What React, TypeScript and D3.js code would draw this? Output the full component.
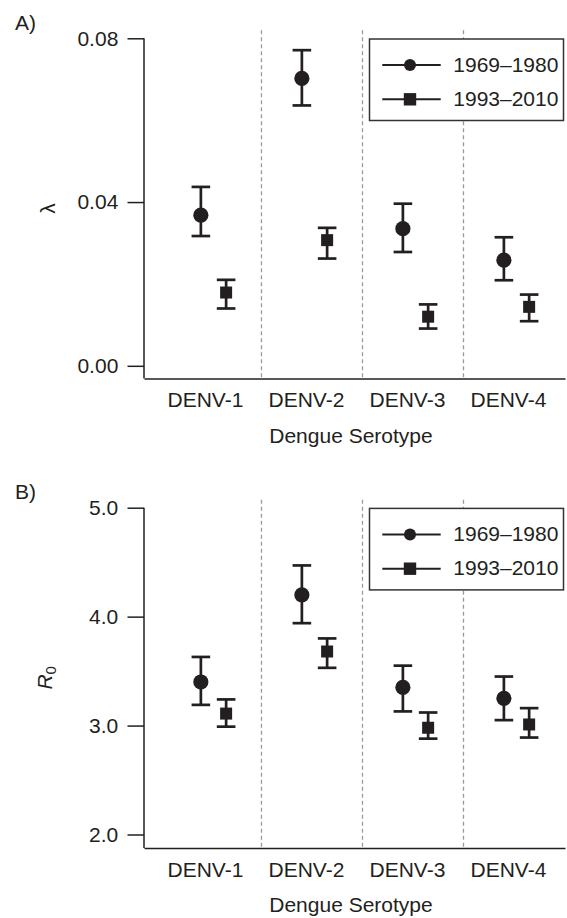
import { useEffect, useRef } from 'react';
import * as d3 from 'd3';

const serotypes = ['DENV-1', 'DENV-2', 'DENV-3', 'DENV-4'];
const periods = ['1969–1980', '1993–2010'];

// panel A: force of infection (lambda)
const lambdaEarly = [0.0368, 0.0702, 0.0335, 0.0258];
const lambdaEarlyLo = [0.0317, 0.0636, 0.0278, 0.0209];
const lambdaEarlyHi = [0.0437, 0.0771, 0.0396, 0.0314];
const lambdaLate = [0.0179, 0.0307, 0.0120, 0.0144];
const lambdaLateLo = [0.0140, 0.0262, 0.0091, 0.0109];
const lambdaLateHi = [0.0210, 0.0337, 0.0150, 0.0174];
const lambdaTicks = [0, 0.04, 0.08];

// panel B: R0
const r0Early = [3.40, 4.20, 3.35, 3.25];
const r0EarlyLo = [3.19, 3.94, 3.13, 3.05];
const r0EarlyHi = [3.63, 4.47, 3.55, 3.45];
const r0Late = [3.11, 3.68, 2.98, 3.01];
const r0LateLo = [2.99, 3.53, 2.88, 2.89];
const r0LateHi = [3.24, 3.80, 3.12, 3.16];
const r0Ticks = [2, 3, 4, 5];

const INK = '#231f20';
const FONT = '"Liberation Sans", Arial, Helvetica, sans-serif';
const FS = 21;

type Series = { mean: number[]; lo: number[]; hi: number[]; shape: 'circle' | 'square' };

interface PanelSpec {
  tag: string;
  top: number;
  yDomain: [number, number];
  ticks: number[];
  fmt: (d: number) => string;
  yLabel: 'lambda' | 'r0';
  series: Series[];
}

const panels: PanelSpec[] = [
  {
    tag: 'A)', top: 38.3, yDomain: [-0.0031, 0.08], ticks: lambdaTicks,
    fmt: d3.format('.2f'), yLabel: 'lambda',
    series: [
      { mean: lambdaEarly, lo: lambdaEarlyLo, hi: lambdaEarlyHi, shape: 'circle' },
      { mean: lambdaLate, lo: lambdaLateLo, hi: lambdaLateHi, shape: 'square' },
    ],
  },
  {
    tag: 'B)', top: 507.7, yDomain: [1.877, 5.0], ticks: r0Ticks,
    fmt: d3.format('.1f'), yLabel: 'r0',
    series: [
      { mean: r0Early, lo: r0EarlyLo, hi: r0EarlyHi, shape: 'circle' },
      { mean: r0Late, lo: r0LateLo, hi: r0LateHi, shape: 'square' },
    ],
  },
];

export default function App() {
  const svgRef = useRef<SVGSVGElement>(null);

  useEffect(() => {
    if (!svgRef.current) return;
    const W = 567, H = 918;
    const svg = d3.select(svgRef.current).attr('width', W).attr('height', H);
    svg.selectAll('*').remove();

    const PH = 340.2;      // plot height
    const axisX = 144;
    const x = d3.scaleLinear().domain([-0.663, 3.505]).range([axisX, 565]);
    const offsets = [-0.1, 0.15]; // circle / square offset within category

    for (const p of panels) {
      const g = svg.append('g');
      const bottom = p.top + PH;
      const y = d3.scaleLinear().domain(p.yDomain).range([bottom, p.top]);
      const yTop = y(p.ticks[p.ticks.length - 1]);

      // panel tag
      g.append('text').attr('x', 15).attr('y', p.top - 8.5)
        .style('font-family', FONT).style('font-size', `${FS}px`).style('fill', INK)
        .text(p.tag);

      // dashed category separators
      g.selectAll('line.sep').data(d3.range(serotypes.length - 1)).join('line')
        .attr('class', 'sep')
        .attr('x1', i => x(i + 0.5)).attr('x2', i => x(i + 0.5))
        .attr('y1', yTop - 8).attr('y2', bottom)
        .style('stroke', '#9a9a9a').style('stroke-width', 1.3)
        .style('stroke-dasharray', '4,3');

      // y axis
      const yAxis = g.append('g').attr('transform', `translate(${axisX},0)`)
        .call(d3.axisLeft(y).tickValues(p.ticks).tickFormat(d => p.fmt(+d))
          .tickSize(16.5).tickSizeOuter(0).tickPadding(9.2));
      yAxis.select('.domain').attr('d', `M0,${yTop}V${bottom}`);
      yAxis.selectAll('text').style('font-family', FONT).style('font-size', `${FS}px`).style('fill', INK);

      // x axis
      const xAxis = g.append('g').attr('transform', `translate(0,${bottom})`)
        .call(d3.axisBottom(x).tickValues(serotypes.map((_, i) => i - 0.06))
          .tickFormat((_, i) => serotypes[i]).tickSize(0).tickPadding(14));
      xAxis.selectAll('text').style('font-family', FONT).style('font-size', `${FS}px`).style('fill', INK);

      svg.selectAll('.domain').style('stroke', INK).style('stroke-width', 1.5);
      svg.selectAll('.tick line').style('stroke', INK).style('stroke-width', 1.5);

      // x title
      g.append('text').attr('x', 351).attr('y', bottom + 64)
        .attr('text-anchor', 'middle')
        .style('font-family', FONT).style('font-size', `${FS}px`).style('fill', INK)
        .text('Dengue Serotype');

      // y title (rotated)
      const midY = (yTop + bottom) / 2;
      if (p.yLabel === 'lambda') {
        g.append('text').attr('transform', `translate(55,${midY}) rotate(-90)`)
          .attr('text-anchor', 'middle')
          .style('font-family', FONT).style('font-size', `${FS}px`).style('fill', INK)
          .text('λ');
      } else {
        const t = g.append('text').attr('transform', `translate(52,${midY}) rotate(-90)`)
          .attr('text-anchor', 'middle')
          .style('font-family', FONT).style('font-size', `${FS}px`).style('fill', INK);
        t.append('tspan').style('font-style', 'italic').text('R');
        t.append('tspan').attr('dy', 4).style('font-size', '15px').text('0');
      }

      // error bars + markers
      p.series.forEach((s, k) => {
        const cx = (i: number) => x(i + offsets[k]);
        const sg = g.append('g');
        s.mean.forEach((m, i) => {
          const xi = cx(i);
          const lo = y(s.lo[i]), hi = y(s.hi[i]);
          sg.append('line').attr('x1', xi).attr('x2', xi).attr('y1', lo).attr('y2', hi)
            .style('stroke', INK).style('stroke-width', 2.7);
          for (const yy of [lo, hi]) {
            sg.append('line').attr('x1', xi - 9.3).attr('x2', xi + 9.3).attr('y1', yy).attr('y2', yy)
              .style('stroke', INK).style('stroke-width', 2.7);
          }
          if (s.shape === 'circle') {
            sg.append('circle').attr('cx', xi).attr('cy', y(m)).attr('r', 7.6).style('fill', INK);
          } else {
            sg.append('rect').attr('x', xi - 6).attr('y', y(m) - 6).attr('width', 12).attr('height', 12)
              .style('fill', INK);
          }
        });
      });

      // legend
      const lx = 369.5, ly = p.top + 0.7;
      const lg = g.append('g');
      lg.append('rect').attr('x', lx).attr('y', ly).attr('width', 194).attr('height', 81.5)
        .style('fill', '#fff').style('stroke', '#333').style('stroke-width', 1.5);
      periods.forEach((label, k) => {
        const ry = ly + (k === 0 ? 26 : 60.3);
        lg.append('line').attr('x1', lx + 12.8).attr('x2', lx + 71.2).attr('y1', ry).attr('y2', ry)
          .style('stroke', INK).style('stroke-width', 2);
        if (k === 0) {
          lg.append('circle').attr('cx', lx + 40.5).attr('cy', ry).attr('r', 6).style('fill', INK);
        } else {
          lg.append('rect').attr('x', lx + 34.3).attr('y', ry - 6.2).attr('width', 12.4).attr('height', 12.4)
            .style('fill', INK);
        }
        lg.append('text').attr('x', lx + 83.8).attr('y', ry + 6.5)
          .style('font-family', FONT).style('font-size', `${FS}px`).style('fill', INK)
          .text(label);
      });
    }
  }, []);

  return (
    <div style={{ position: 'absolute', left: 0, top: 0, background: '#fff' }}>
      <svg ref={svgRef} style={{ display: 'block' }} />
    </div>
  );
}
